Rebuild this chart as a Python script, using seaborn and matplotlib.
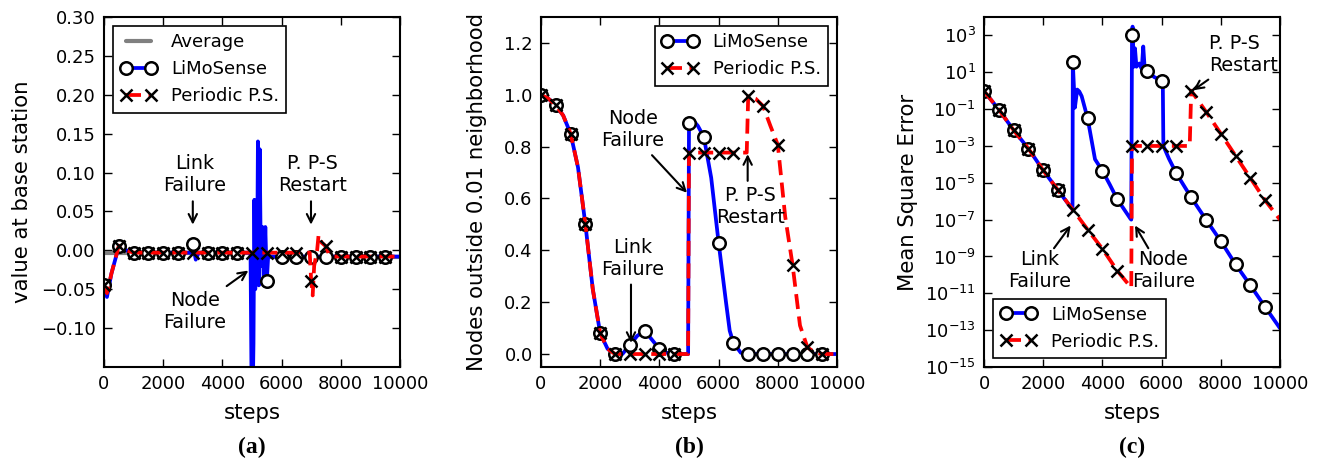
import numpy as np
import matplotlib
matplotlib.use("Agg")
import matplotlib.pyplot as plt
import matplotlib.ticker as mticker
import seaborn as sns

# ---- data ----
# (a) value at base station
avg_steps = [0, 5000, 5000, 10000]
avg_values = [-0.003, -0.003, -0.008, -0.008]

a_limo_steps = [0, 100, 250, 500, 750, 1000, 1500, 2000, 2500, 2950, 3000, 3100, 3200,
                3500, 4000, 4500, 4950, 5000, 5050, 5080, 5110, 5140, 5170, 5200, 5230,
                5260, 5300, 5350, 5400, 5450, 5500, 5550, 5600, 6000, 6500, 7000, 7500,
                8000, 8500, 9000, 9500, 10000]
a_limo_values = [-0.045, -0.06, -0.03, 0.005, 0.0, -0.003, -0.003, -0.003, -0.003, -0.003,
                 0.008, -0.012, -0.003, -0.003, -0.003, -0.003, -0.003, -0.25, -0.12, 0.065,
                 -0.05, 0.06, -0.04, 0.14, -0.045, 0.13, -0.02, 0.03, -0.045, 0.03, -0.04,
                 -0.005, -0.008, -0.008, -0.008, -0.008, -0.008, -0.008, -0.008, -0.008,
                 -0.008, -0.008]

a_pps_steps = [0, 100, 250, 500, 750, 1000, 1500, 2000, 2500, 3000, 3500, 4000, 4500, 5000,
               5500, 6000, 6500, 6950, 7000, 7050, 7100, 7200, 7250, 7350, 7500, 7600, 7750,
               8000, 8500, 9000, 9500, 10000]
a_pps_values = [-0.045, -0.055, -0.03, 0.006, 0.0, -0.003, -0.003, -0.003, -0.003, -0.003,
                -0.003, -0.003, -0.003, -0.003, -0.003, -0.003, -0.003, -0.003, -0.04,
                -0.058, -0.02, 0.0, 0.02, 0.01, 0.005, -0.005, -0.008, -0.008, -0.008,
                -0.008, -0.008, -0.008]

# (b) nodes outside 0.01 neighborhood
b_limo_steps = [0, 250, 500, 750, 1000, 1250, 1500, 1750, 2000, 2250, 2500, 2750, 3000,
                3250, 3500, 3750, 4000, 4250, 4500, 4750, 4970, 5000, 5150, 5300, 5500,
                5750, 6000, 6250, 6375, 6500, 6750, 7000, 7500, 8000, 8500, 9000, 9500, 10000]
b_limo_values = [1.0, 0.985, 0.96, 0.92, 0.85, 0.72, 0.5, 0.25, 0.08, 0.02, 0.0, 0.0, 0.035,
                 0.07, 0.09, 0.055, 0.02, 0.005, 0.0, 0.0, 0.0, 0.893, 0.9, 0.88, 0.838,
                 0.68, 0.43, 0.2, 0.09, 0.043, 0.005, 0.0, 0.0, 0.0, 0.0, 0.0, 0.0, 0.0]

b_pps_steps = [0, 250, 500, 750, 1000, 1250, 1500, 1750, 2000, 2250, 2500, 2750, 3000,
               3500, 4000, 4500, 4970, 5000, 5500, 6000, 6500, 6950, 7000, 7250, 7500,
               7750, 8000, 8250, 8500, 8750, 9000, 9250, 9500, 10000]
b_pps_values = [1.0, 0.985, 0.96, 0.92, 0.85, 0.72, 0.5, 0.25, 0.08, 0.02, 0.0, 0.0, 0.0,
                0.0, 0.0, 0.0, 0.0, 0.777, 0.777, 0.777, 0.777, 0.777, 0.994, 0.985, 0.957,
                0.88, 0.807, 0.53, 0.343, 0.11, 0.026, 0.005, 0.0, 0.0]

# (c) mean square error
c_limo_steps = [0, 500, 1000, 1500, 2000, 2500, 2990, 3000, 3070, 3150, 3220, 3300, 3500,
                3750, 4000, 4250, 4500, 4950, 4975, 5000, 5020, 5060, 5100, 5150, 5250,
                5330, 5380, 5430, 5500, 5750, 6000, 6040, 6060, 6250, 6500, 7000, 7500,
                8000, 8500, 9000, 9500, 10000]
c_limo_values = [0.95, 0.095, 7.2e-3, 7.2e-4, 4.7e-5, 4.0e-6, 3.5e-7, 35.0, 0.12, 1.15,
                 0.9, 0.5, 0.032, 1.9e-4, 4.5e-5, 8e-6, 1.3e-6, 1.1e-7, 1.0e-7, 1100.0,
                 3000.0, 20.0, 200.0, 20.0, 30.0, 15.0, 250.0, 15.0, 12.0, 5.5, 3.5, 3.5,
                 1e-3, 2e-4, 3.2e-5, 1.6e-6, 1.0e-7, 6.8e-9, 3.7e-10, 2.7e-11, 1.8e-12,
                 1.26e-13]

c_pps_steps = [0, 500, 1000, 1500, 2000, 2500, 3000, 3500, 4000, 4500, 4975, 5000, 5500,
               6000, 6500, 6950, 7000, 7500, 8000, 8500, 9000, 9500, 10000]
c_pps_values = [0.95, 0.095, 7.2e-3, 7.2e-4, 4.7e-5, 4.0e-6, 3.5e-7, 2.9e-8, 2.6e-9,
                1.7e-10, 2e-11, 1e-3, 1e-3, 1e-3, 1e-3, 1e-3, 1.0, 0.072, 4.7e-3, 2.9e-4,
                1.8e-5, 1.1e-6, 1.0e-7]

# ---- style ----
sns.set_style("ticks", {"xtick.direction": "in", "ytick.direction": "in",
                        "axes.edgecolor": "black"})
plt.rcParams["font.family"] = ["DejaVu Sans"]
plt.rcParams["mathtext.fontset"] = "dejavusans"
plt.rcParams["mathtext.default"] = "regular"
plt.rcParams["axes.linewidth"] = 1.5
plt.rcParams["text.color"] = "black"
plt.rcParams["axes.labelcolor"] = "black"
plt.rcParams["xtick.color"] = "black"
plt.rcParams["ytick.color"] = "black"

BLUE = "#0000ff"
RED = "#ff0000"
TICK_FS = 13
NOTE_FS = 13.8
LABEL_FS = 15.3


def marker_idx(steps):
    # markers sit every 500 steps
    return [i for i, s in enumerate(steps) if s % 500 == 0 and s < 10000]


def draw_series(ax, steps, limo_vals, pps_vals_steps, pps_vals):
    sns.lineplot(x=steps, y=limo_vals, ax=ax, estimator=None, sort=False,
                 color=BLUE, lw=2.7, marker="o", markersize=9,
                 markerfacecolor="white", markeredgecolor="black",
                 markeredgewidth=1.8, markevery=marker_idx(steps),
                 label="LiMoSense")
    sns.lineplot(x=pps_vals_steps, y=pps_vals, ax=ax, estimator=None, sort=False,
                 color=RED, lw=2.7, linestyle=(0, (4, 2)), marker="x", markersize=9,
                 markeredgecolor="black", markeredgewidth=1.8,
                 markevery=marker_idx(pps_vals_steps), label="Periodic P.S.")


def note(ax, text, xy_text, tail, head, ha="center"):
    ax.text(xy_text[0], xy_text[1], text, ha=ha, va="center", fontsize=NOTE_FS,
            linespacing=1.2)
    ax.annotate("", xy=head, xytext=tail,
                arrowprops=dict(arrowstyle="->", lw=1.5, color="black",
                                shrinkA=0, shrinkB=0, mutation_scale=15))


def finish(ax, ylabel, ypad):
    ax.set_xlim(0, 10000)
    ax.xaxis.set_major_locator(mticker.FixedLocator(range(0, 10001, 2000)))
    ax.set_xlabel("steps", fontsize=LABEL_FS, labelpad=7)
    ax.set_ylabel(ylabel, fontsize=LABEL_FS, labelpad=ypad)
    ax.tick_params(which="major", top=True, right=True, length=6, width=1,
                   labelsize=TICK_FS, pad=6)
    ax.tick_params(which="minor", left=False, right=False, bottom=False, top=False)
    for sp in ax.spines.values():
        sp.set_visible(True)
        sp.set_linewidth(1.5)


def legend(ax, loc):
    leg = ax.legend(loc=loc, numpoints=2, fontsize=TICK_FS, frameon=True,
                    fancybox=False, framealpha=1, edgecolor="black",
                    handlelength=2.0, borderaxespad=0.5)
    leg.get_frame().set_linewidth(1.2)


def minus_fmt(fmt):
    return mticker.FuncFormatter(lambda v, pos: (fmt % v).replace("-", "\u2212"))


fig = plt.figure(figsize=(13.2, 4.61), dpi=100)
ax_a = fig.add_axes([104 / 1320, 1 - 367 / 461, 296 / 1320, 350 / 461])
ax_b = fig.add_axes([541 / 1320, 1 - 367 / 461, 296 / 1320, 350 / 461])
ax_c = fig.add_axes([984 / 1320, 1 - 367 / 461, 296 / 1320, 350 / 461])

# (a)
sns.lineplot(x=avg_steps, y=avg_values, ax=ax_a, estimator=None, sort=False,
             color="gray", lw=3, label="Average")
draw_series(ax_a, a_limo_steps, a_limo_values, a_pps_steps, a_pps_values)
ax_a.set_ylim(-0.15, 0.30)
ax_a.yaxis.set_major_locator(mticker.FixedLocator(np.arange(-0.10, 0.301, 0.05)))
ax_a.yaxis.set_major_formatter(minus_fmt("%.2f"))
note(ax_a, "Link\nFailure", (3074, 0.098), (3000, 0.063), (3000, 0.033))
note(ax_a, "P. P-S\nRestart", (7050, 0.098), (6993, 0.063), (6993, 0.033))
note(ax_a, "Node\nFailure", (3074, -0.079), (4144, -0.046), (4876, -0.026))
finish(ax_a, "value at base station", 6)
legend(ax_a, "upper left")

# (b)
draw_series(ax_b, b_limo_steps, b_limo_values, b_pps_steps, b_pps_values)
ax_b.set_ylim(-0.05, 1.3)
ax_b.yaxis.set_major_locator(mticker.FixedLocator(np.arange(0.0, 1.21, 0.2)))
ax_b.yaxis.set_major_formatter(minus_fmt("%.1f"))
note(ax_b, "Node\nFailure", (3108, 0.867), (3750, 0.767), (4932, 0.622))
note(ax_b, "Link\nFailure", (3108, 0.367), (3040, 0.268), (3040, 0.043))
note(ax_b, "P. P-S\nRestart", (7072, 0.571), (6982, 0.668), (6982, 0.771))
finish(ax_b, "Nodes outside 0.01 neighborhood", 12)
legend(ax_b, "upper right")

# (c)
ax_c.set_yscale("log")
draw_series(ax_c, c_limo_steps, c_limo_values, c_pps_steps, c_pps_values)
ax_c.set_ylim(1e-15, 1e4)
ax_c.yaxis.set_major_locator(mticker.FixedLocator([10.0 ** k for k in range(-15, 4, 2)]))
ax_c.yaxis.set_major_formatter(mticker.LogFormatterMathtext())
ax_c.yaxis.set_minor_locator(mticker.NullLocator())
note(ax_c, "P. P-S\nRestart", (7600, 90), (7579, 4.0), (7072, 1.06), ha="left")
note(ax_c, "Link\nFailure", (1892, 1.7e-10), (2365, 2.8e-9), (2928, 4.8e-8))
note(ax_c, "Node\nFailure", (6059, 1.7e-10), (5552, 2.8e-9), (5101, 4.8e-8))
finish(ax_c, "Mean Square Error", 5)
legend(ax_c, "lower left")

for ax, tag in [(ax_a, "(a)"), (ax_b, "(b)"), (ax_c, "(c)")]:
    pos = ax.get_position()
    fig.text(pos.x0 + pos.width / 2, 1 - 447 / 461, tag, ha="center", va="center",
             fontsize=17, fontweight="bold", family=["Liberation Serif", "DejaVu Serif"])

fig.savefig("out.png", dpi=100)
